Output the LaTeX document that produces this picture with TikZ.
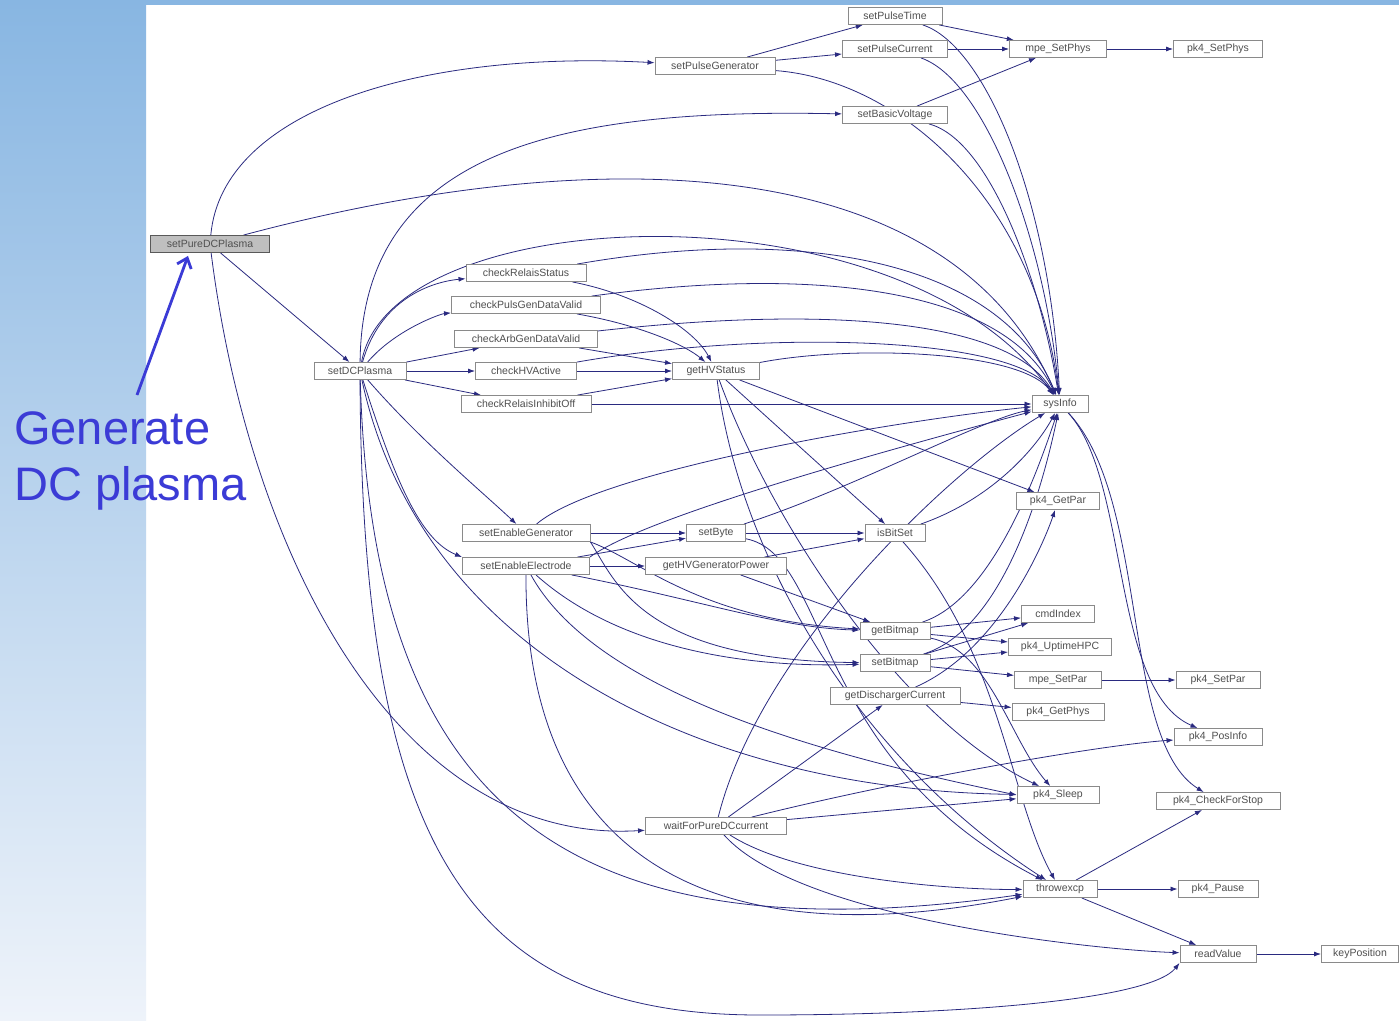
\documentclass[tikz,border=0pt]{standalone}
\usepackage{fontspec}
\setmainfont{Liberation Sans}
\usetikzlibrary{arrows.meta}
\pgfdeclarelayer{bg}
\pgfsetlayers{bg,main}
\definecolor{edgec}{HTML}{2A2A80}
\definecolor{boxc}{HTML}{8A8A8A}
\definecolor{txtc}{HTML}{505050}
\definecolor{bluetxt}{HTML}{3B3BD6}
\definecolor{bgtop}{HTML}{88B6E2}
\definecolor{bgbot}{HTML}{EEF3FA}
\begin{document}
\begin{tikzpicture}[x=1pt,y=-1pt,
  fbox/.style={draw=boxc, line width=0.9pt, fill=white, text=txtc,
    font=\fontsize{10.5}{12}\selectfont, inner sep=0pt, minimum height=17pt},
  ed/.style={draw=edgec, line width=0.8pt, -{Latex[length=7pt,width=5pt]}},
]
\useasboundingbox (0,0) rectangle (1399,1020);
% nodes
\node[fbox,minimum width=94pt] (spt) at (895,16) {setPulseTime};
\node[fbox,minimum width=105pt] (spc) at (895,49) {setPulseCurrent};
\node[fbox,minimum width=120pt] (spg) at (715,66) {setPulseGenerator};
\node[fbox,minimum width=97pt] (mph) at (1058,49) {mpe\_SetPhys};
\node[fbox,minimum width=89pt] (psp) at (1218,49) {pk4\_SetPhys};
\node[fbox,minimum width=105pt] (sbv) at (895,115) {setBasicVoltage};
\node[fbox,minimum width=119pt,fill=gray!50,draw=gray!70!black] (pure) at (210,244) {setPureDCPlasma};
\node[fbox,minimum width=120pt] (crs) at (526,273) {checkRelaisStatus};
\node[fbox,minimum width=149pt] (cpg) at (526,305) {checkPulsGenDataValid};
\node[fbox,minimum width=143pt] (cag) at (526,339) {checkArbGenDataValid};
\node[fbox,minimum width=92pt] (sdc) at (360,371) {setDCPlasma};
\node[fbox,minimum width=101pt] (chv) at (526,371) {checkHVActive};
\node[fbox,minimum width=87pt] (ghs) at (716,371) {getHVStatus};
\node[fbox,minimum width=130pt] (cri) at (526,404) {checkRelaisInhibitOff};
\node[fbox,minimum width=56pt] (sys) at (1060,404) {sysInfo};
\node[fbox,minimum width=83pt] (gpar) at (1058,501) {pk4\_GetPar};
\node[fbox,minimum width=128pt] (seg) at (526,533) {setEnableGenerator};
\node[fbox,minimum width=59pt] (sby) at (716,533) {setByte};
\node[fbox,minimum width=60pt] (ibs) at (895,533) {isBitSet};
\node[fbox,minimum width=127pt] (see) at (526,566) {setEnableElectrode};
\node[fbox,minimum width=141pt] (ghp) at (716,566) {getHVGeneratorPower};
\node[fbox,minimum width=73pt] (cmd) at (1058,614) {cmdIndex};
\node[fbox,minimum width=70pt] (gbm) at (895,631) {getBitmap};
\node[fbox,minimum width=103pt] (upt) at (1060,647) {pk4\_UptimeHPC};
\node[fbox,minimum width=70pt] (sbm) at (895,663) {setBitmap};
\node[fbox,minimum width=87pt] (msp) at (1058,680) {mpe\_SetPar};
\node[fbox,minimum width=84pt] (pspar) at (1218,680) {pk4\_SetPar};
\node[fbox,minimum width=130pt] (gdc) at (895,696) {getDischargerCurrent};
\node[fbox,minimum width=92pt] (gph) at (1058,712) {pk4\_GetPhys};
\node[fbox,minimum width=88pt] (ppi) at (1218,737) {pk4\_PosInfo};
\node[fbox,minimum width=82pt] (slp) at (1058,795) {pk4\_Sleep};
\node[fbox,minimum width=124pt] (cfs) at (1218,801) {pk4\_CheckForStop};
\node[fbox,minimum width=141pt] (wfp) at (716,826) {waitForPureDCcurrent};
\node[fbox,minimum width=74pt] (thr) at (1060,889) {throwexcp};
\node[fbox,minimum width=80pt] (pau) at (1218,889) {pk4\_Pause};
\node[fbox,minimum width=76pt] (rv) at (1218,954) {readValue};
\node[fbox,minimum width=77pt] (kp) at (1360,954) {keyPosition};
% annotation
\node[font=\fontsize{47}{56}\selectfont, text=bluetxt, align=left, anchor=north west, inner sep=0pt] (lbl) at (14,411) {Generate\\DC plasma};
\coordinate (atail) at (137,395);
\draw[bluetxt, line width=2.8pt, -{Straight Barb[length=9pt,width=15pt]}] (atail) -- ([xshift=-22pt,yshift=-3pt]pure.south);
\begin{pgfonlayer}{bg}
\fill[white] (0,0) rectangle (1399,1020);
\shade[top color=bgtop, bottom color=bgbot] (0,0) rectangle (146,1020);
\fill[bgtop] (0,0) rectangle (1399,5);
% top cluster
\draw[ed] (spg) -- (spt);
\draw[ed] (spg) -- (spc);
\draw[ed] (spt) -- (mph);
\draw[ed] (spc) -- (mph);
\draw[ed] (sbv) -- (mph);
\draw[ed] (mph) -- (psp);
\draw[ed] (spt) .. controls (985,45) and (1050,200) .. (sys);
\draw[ed] (spc) .. controls (985,80) and (1045,240) .. (sys);
\draw[ed] (spg) .. controls (900,80) and (1035,200) .. (sys);
\draw[ed] (sbv) .. controls (990,140) and (1040,280) .. (sys);
% from setPureDCPlasma
\draw[ed] (pure) .. controls (222,110) and (420,50) .. (spg);
\draw[ed] (pure) .. controls (600,140) and (950,150) .. (sys);
\draw[ed] (pure) -- (sdc);
\draw[ed] (pure) .. controls (250,560) and (400,845) .. (wfp);
% from setDCPlasma
\draw[ed] (sdc) .. controls (362,150) and (560,108) .. (sbv);
\draw[ed] (sdc) .. controls (390,200) and (900,180) .. (sys);
\draw[ed] (sdc) .. controls (380,300) and (430,282) .. (crs);
\draw[ed] (sdc) .. controls (395,330) and (440,314) .. (cpg);
\draw[ed] (sdc) -- (cag);
\draw[ed] (sdc) -- (chv);
\draw[ed] (sdc) -- (cri);
\draw[ed] (sdc) .. controls (420,440) and (480,490) .. (seg);
\draw[ed] (sdc) .. controls (395,480) and (420,540) .. (see.north west);
\draw[ed] (sdc) .. controls (420,650) and (700,790) .. (slp);
\draw[ed] (sdc) .. controls (372,800) and (560,960) .. (thr);
\draw[ed] (sdc) .. controls (362,850) and (470,1015) .. (760,1015) .. controls (960,1015) and (1150,1000) .. (rv.south west);
% checks
\draw[ed] (crs) .. controls (640,295) and (695,330) .. (ghs);
\draw[ed] (cpg) .. controls (640,325) and (685,345) .. (ghs);
\draw[ed] (cag) -- (ghs);
\draw[ed] (chv) -- (ghs);
\draw[ed] (cri) -- (ghs);
\draw[ed] (cri) -- (sys);
\draw[ed] (crs) .. controls (800,225) and (1000,260) .. (sys);
\draw[ed] (cpg) .. controls (820,265) and (1005,290) .. (sys);
\draw[ed] (cag) .. controls (830,305) and (1010,320) .. (sys);
\draw[ed] (chv) .. controls (760,330) and (1015,335) .. (sys);
\draw[ed] (ghs) .. controls (850,345) and (1020,350) .. (sys);
% getHVStatus down
\draw[ed] (ghs) -- (ibs);
\draw[ed] (ghs) -- (gpar);
\draw[ed] (ghs) .. controls (770,520) and (900,720) .. (slp);
\draw[ed] (ghs) .. controls (740,560) and (860,760) .. (thr);
% enable group
\draw[ed] (seg) -- (sby);
\draw[ed] (see) -- (sby);
\draw[ed] (see) -- (ghp);
\draw[ed] (sby) -- (ibs);
\draw[ed] (ghp) -- (ibs);
\draw[ed] (seg) .. controls (600,470) and (900,420) .. (sys);
\draw[ed] (see.north east) .. controls (640,520) and (850,460) .. (sys);
\draw[ed] (sby) .. controls (850,490) and (980,420) .. (sys);
\draw[ed] (ibs) .. controls (990,500) and (1035,450) .. (sys);
\draw[ed] (ibs) .. controls (1000,650) and (1010,800) .. (thr);
\draw[ed] (sby) .. controls (830,555) and (810,760) .. (thr);
\draw[ed] (seg.south east) .. controls (640,560) and (700,620) .. (gbm);
\draw[ed] (seg.south east) .. controls (615,580) and (640,660) .. (sbm);
\draw[ed] (see) .. controls (700,600) and (780,628) .. (gbm);
\draw[ed] (see) .. controls (620,650) and (750,668) .. (sbm);
\draw[ed] (ghp) -- (gbm);
\draw[ed] (see) .. controls (525,850) and (700,960) .. (thr);
\draw[ed] (see) .. controls (600,700) and (850,760) .. (slp.west);
% bitmap group
\draw[ed] (gbm) .. controls (990,600) and (1035,480) .. (sys);
\draw[ed] (sbm) .. controls (1000,630) and (1040,500) .. (sys);
\draw[ed] (gbm) -- (cmd);
\draw[ed] (sbm) -- (cmd);
\draw[ed] (gbm) -- (upt);
\draw[ed] (sbm) -- (upt);
\draw[ed] (sbm) -- (msp);
\draw[ed] (gbm) .. controls (990,650) and (1010,740) .. (slp);
\draw[ed] (msp) -- (pspar);
\draw[ed] (gdc) -- (gph);
\draw[ed] (gdc) .. controls (1000,650) and (1045,540) .. (gpar);
% waitForPureDCcurrent
\draw[ed] (wfp) -- (gdc);
\draw[ed] (wfp) .. controls (760,650) and (950,470) .. (sys);
\draw[ed] (wfp) -- (slp);
\draw[ed] (wfp) .. controls (900,780) and (1100,745) .. (ppi);
\draw[ed] (wfp) .. controls (800,880) and (960,890) .. (thr);
\draw[ed] (wfp) .. controls (800,920) and (1100,950) .. (rv);
% right side
\draw[ed] (sys) .. controls (1130,480) and (1110,690) .. (ppi);
\draw[ed] (sys) .. controls (1150,500) and (1120,740) .. (cfs);
\draw[ed] (thr) -- (cfs);
\draw[ed] (thr) -- (pau);
\draw[ed] (thr) -- (rv);
\draw[ed] (rv) -- (kp);
\end{pgfonlayer}
\end{tikzpicture}
\end{document}
